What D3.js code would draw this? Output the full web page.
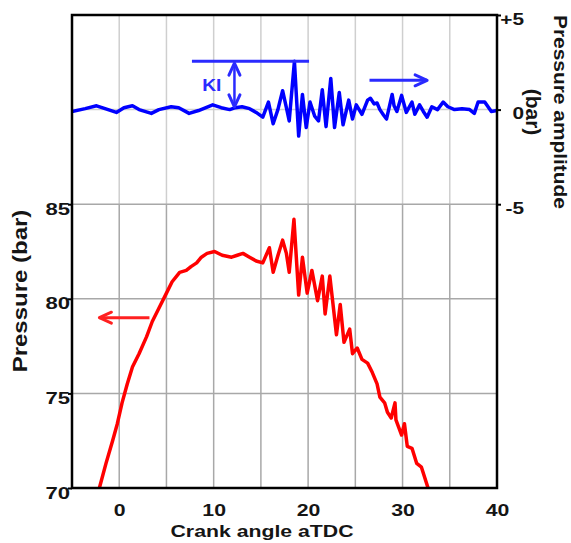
<!DOCTYPE html>
<html>
  <head>
    <meta charset="UTF-8">
    <title>Knock pressure trace</title>
    <script src="https://cdn.jsdelivr.net/npm/d3@7"></script>
    <style>
      body { margin: 0; background: #fff; }
      text { font-family: "Liberation Sans", Arial, sans-serif; font-weight: bold; }
    </style>
  </head>
  <body>
    <svg width="571" height="543"></svg>
    <script>
      // Cylinder pressure (left axis, bar)
      var pCrank = [-2.1, -1.4, -0.7, -0.2, 0.3, 0.85, 1.4, 2.1, 2.9, 3.5, 4.2, 5.0, 5.6, 6.4, 7.1, 7.6, 8.2, 8.7, 9.3, 10.1,
                    10.9, 11.9, 12.5, 13.1, 13.8, 14.5, 15.2, 15.9, 16.3, 16.75, 17.3, 17.7, 18.0, 18.5, 19.0, 19.4, 19.9, 20.4,
                    21.0, 21.5, 21.8, 22.3, 23.0, 23.4, 23.8, 24.4, 24.7, 25.2, 25.7, 26.3, 26.8, 27.3, 27.6, 28.1, 28.4, 28.8,
                    29.2, 29.3, 29.9, 30.2, 30.5, 31.0, 31.5, 32.0, 32.7];
      var pressure = [70, 71.3, 72.5, 73.4, 74.5, 75.5, 76.4, 77.1, 78.0, 78.8, 79.5, 80.3, 80.9, 81.4, 81.5, 81.7, 81.9, 82.2, 82.4, 82.5,
                      82.3, 82.2, 82.3, 82.4, 82.2, 82.0, 81.9, 82.7, 81.4, 82.2, 83.1, 82.4, 81.4, 84.2, 80.2, 82.2, 80.3, 81.5,
                      79.9, 81.2, 79.2, 81.2, 78.1, 79.7, 77.7, 78.4, 77.1, 77.4, 76.8, 76.6, 76.1, 75.5, 74.8, 74.5, 74.0, 73.7,
                      74.5, 73.6, 72.8, 73.4, 72.2, 72.1, 71.3, 71.1, 70.0];

      // Pressure amplitude (right axis, bar)
      var aCrank = [-5.0, -3.6, -2.4, -1.5, -0.3, 0.5, 1.4, 2.1, 3.4, 4.2, 5.5, 6.3, 7.4, 8.4, 9.9, 10.8, 11.7, 12.3, 13.0, 13.8,
                    14.5, 15.2, 15.8, 16.3, 16.8, 17.3, 17.7, 18.0, 18.55, 19.0, 19.4, 19.8, 20.2, 20.7, 21.1, 21.5, 21.9, 22.4,
                    22.8, 23.3, 23.7, 24.3, 24.7, 25.1, 25.7, 26.3, 26.6, 27.0, 27.3, 27.6, 28.0, 28.3, 28.9, 29.1, 29.4, 29.9,
                    30.4, 31.0, 31.3, 31.8, 32.2, 32.6, 33.1, 33.7, 34.3, 34.8, 35.5, 36.3, 37.1, 37.6, 38.0, 38.7, 39.4, 40.0];
      var amplitude = [-0.1, 0.05, 0.2, 0.05, -0.15, 0.1, 0.2, 0.0, -0.2, 0.0, 0.15, 0.1, -0.2, -0.05, 0.25, 0.1, 0.0, 0.1, 0.15, 0.05,
                       -0.15, -0.4, 0.4, -0.75, 0.0, 1.0, 0.1, -0.6, 2.55, -1.4, 0.8, -0.95, 0.4, -0.35, -0.6, 1.05, -0.9, 1.65,
                       -0.95, 0.9, -0.8, 0.5, -0.5, 0.25, -0.25, 0.5, 0.6, 0.3, 0.35, 0.0, -0.3, -0.5, 0.8, 0.2, -0.1, 0.75,
                       -0.15, 0.4, -0.25, 0.25, -0.1, -0.4, 0.15, 0.0, 0.4, 0.15, 0.0, 0.05, 0.0, -0.2, 0.4, 0.4, -0.1, -0.05];

      var xTicks = [0, 10, 20, 30, 40];
      var leftTicks = [70, 75, 80, 85];
      var rightTicks = [-5, 0, 5];

      var svg = d3.select("svg");
      var x = d3.scaleLinear().domain([-5, 40]).range([72, 497]);
      var yL = d3.scaleLinear().domain([70, 95]).range([488, 15]);
      var yR = d3.scaleLinear().domain([-20, 5]).range([488, 15]);
      var ink = "#151515";
      var stretch = 1.3; // labels in the figure are drawn wider than tall

      svg.append("defs").append("clipPath").attr("id", "clip")
        .append("rect").attr("x", 72).attr("y", 15).attr("width", 425).attr("height", 473);

      // Grid: lighter in the amplitude band, darker in the pressure band
      var g = svg.append("g");
      d3.range(-5, 41, 5).forEach(function(v) {
        g.append("line").attr("x1", x(v)).attr("x2", x(v)).attr("y1", 15).attr("y2", yL(85))
          .attr("stroke", "#cfcfcf").attr("stroke-width", 1.5);
        g.append("line").attr("x1", x(v)).attr("x2", x(v)).attr("y1", yL(85)).attr("y2", 488)
          .attr("stroke", "#a8a8a8").attr("stroke-width", 1.5);
      });
      g.append("line").attr("x1", 72).attr("x2", 497).attr("y1", yR(0)).attr("y2", yR(0))
        .attr("stroke", "#cfcfcf").attr("stroke-width", 1.5);
      [75, 80, 85].forEach(function(v) {
        g.append("line").attr("x1", 72).attr("x2", 497).attr("y1", yL(v)).attr("y2", yL(v))
          .attr("stroke", "#a8a8a8").attr("stroke-width", 1.5);
      });

      // Curves
      var redLine = d3.line().x(function(d, i) { return x(pCrank[i]); }).y(function(d) { return yL(d); });
      var blueLine = d3.line().x(function(d, i) { return x(aCrank[i]); }).y(function(d) { return yR(d); });

      svg.append("path").datum(pressure).attr("clip-path", "url(#clip)")
        .attr("fill", "none").attr("stroke", "#ff0000").attr("stroke-width", 3.5)
        .attr("stroke-linejoin", "round").attr("d", redLine);
      svg.append("path").datum(amplitude).attr("clip-path", "url(#clip)")
        .attr("fill", "none").attr("stroke", "#0000ff").attr("stroke-width", 3.5)
        .attr("stroke-linejoin", "round").attr("d", blueLine);

      // Frame
      svg.append("rect").attr("x", 72).attr("y", 15).attr("width", 425).attr("height", 473)
        .attr("fill", "none").attr("stroke", "#000").attr("stroke-width", 2.5);

      // Axes
      svg.append("g").attr("transform", "translate(0,488)")
        .call(d3.axisBottom(x).tickValues(xTicks).tickSize(0))
        .call(function(s) {
          s.select(".domain").remove();
          s.selectAll("text").attr("font-size", 17).attr("fill", ink)
            .attr("y", 0).attr("dy", 0).attr("transform", "translate(0,28) scale(1.25,1)");
        });
      svg.append("g").attr("transform", "translate(72,0)")
        .call(d3.axisLeft(yL).tickValues(leftTicks).tickSize(4))
        .call(function(s) {
          s.select(".domain").remove();
          s.selectAll("line").attr("stroke-width", 2);
          s.selectAll("text").attr("font-size", 17).attr("fill", ink)
            .attr("x", 0).attr("dy", 0).attr("transform", "translate(-2,10) scale(" + stretch + ",1)");
        });
      svg.append("g").attr("transform", "translate(497,0)")
        .call(d3.axisRight(yR).tickValues(rightTicks).tickSize(4)
          .tickFormat(function(d) { return d > 0 ? "+" + d : d; }))
        .call(function(s) {
          s.select(".domain").remove();
          s.selectAll("line").attr("stroke-width", 2);
          s.selectAll("text").attr("font-size", 16).attr("fill", ink).attr("text-anchor", "end")
            .attr("x", 0).attr("dy", 0).attr("transform", "translate(27,9) scale(" + stretch + ",1)");
        });

      // Axis titles
      svg.append("text").attr("transform", "translate(262,537) scale(1.25,1)").attr("text-anchor", "middle")
        .attr("font-size", 17).attr("fill", ink).text("Crank angle aTDC");
      svg.append("text").attr("transform", "translate(27,291) rotate(-90) scale(1.2,1)").attr("text-anchor", "middle")
        .attr("font-size", 20).attr("fill", ink).text("Pressure (bar)");
      svg.append("text").attr("transform", "translate(554,112) rotate(90) scale(1.1,1)").attr("text-anchor", "middle")
        .attr("font-size", 19).attr("fill", ink).text("Pressure amplitude");
      svg.append("text").attr("transform", "translate(526,112) rotate(90)").attr("text-anchor", "middle")
        .attr("font-size", 21).attr("fill", ink).text("(bar)");

      // Annotations
      function arrowHead(tipX, tipY, dx, dy, color) {
        // open V arrowhead pointing in direction (dx,dy)
        var len = Math.sqrt(dx * dx + dy * dy), ux = dx / len, uy = dy / len, s = 12, w = 5.5;
        var bx = tipX - ux * s, by = tipY - uy * s;
        svg.append("path")
          .attr("d", "M" + (bx - uy * w) + "," + (by + ux * w) + "L" + tipX + "," + tipY + "L" + (bx + uy * w) + "," + (by - ux * w))
          .attr("fill", "none").attr("stroke", color).attr("stroke-width", 3)
          .attr("stroke-linecap", "round").attr("stroke-linejoin", "round");
      }

      var blue = "#2a2aff";
      svg.append("line").attr("x1", x(7.7)).attr("x2", x(20.1)).attr("y1", yR(2.55)).attr("y2", yR(2.55))
        .attr("stroke", blue).attr("stroke-width", 3);
      svg.append("line").attr("x1", x(12.2)).attr("x2", x(12.2)).attr("y1", yR(2.45)).attr("y2", yR(0.15))
        .attr("stroke", blue).attr("stroke-width", 2.5);
      arrowHead(x(12.2), yR(2.45), 0, -1, blue);
      arrowHead(x(12.2), yR(0.15), 0, 1, blue);
      svg.append("text").attr("transform", "translate(" + x(9.8) + "," + (yR(1.3) + 6) + ") scale(1.2,1)")
        .attr("text-anchor", "middle").attr("font-size", 16).attr("fill", blue).text("KI");

      svg.append("line").attr("x1", x(26.5)).attr("x2", x(32.6)).attr("y1", yR(1.55)).attr("y2", yR(1.55))
        .attr("stroke", blue).attr("stroke-width", 3);
      arrowHead(x(32.6), yR(1.55), 1, 0, blue);

      var red = "#ff2020";
      svg.append("line").attr("x1", x(3.2)).attr("x2", x(-2.1)).attr("y1", yL(79.0)).attr("y2", yL(79.0))
        .attr("stroke", red).attr("stroke-width", 3);
      arrowHead(x(-2.1), yL(79.0), -1, 0, red);
    </script>
  </body>
</html>
